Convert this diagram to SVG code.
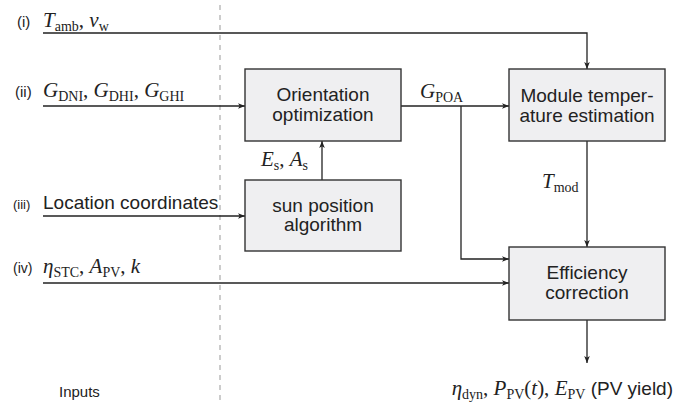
<svg xmlns="http://www.w3.org/2000/svg" width="675" height="403" viewBox="0 0 675 403">
<defs>
<marker id="ah" viewBox="0 0 10 10" refX="10" refY="5" markerWidth="7" markerHeight="7" markerUnits="userSpaceOnUse" orient="auto">
<path d="M0,1 L10,5 L0,9 L2.5,5 Z" fill="#222"/>
</marker>
<style>
.box{fill:#efeff1;stroke:#333;stroke-width:1.4}
.bt{font-family:"Liberation Sans",Arial,sans-serif;font-size:19px;fill:#222;text-anchor:middle}
.sans{font-family:"Liberation Sans",Arial,sans-serif;fill:#222}
.lab{font-size:15px}
.m{font-family:"Liberation Serif","Times New Roman",serif;font-size:21px;fill:#222}
.i{font-style:italic}
.s{font-size:14px;font-style:normal}
.c{fill:none;stroke:#222;stroke-width:1.3;marker-end:url(#ah)}
</style>
</defs>
<rect width="675" height="403" fill="#fff"/>
<line x1="220" y1="5" x2="220" y2="403" stroke="#999" stroke-width="1" stroke-dasharray="5,5"/>

<g id="connectors">
<path class="c" d="M43,33 H587 V69"/>
<path class="c" d="M43,106 H245"/>
<path class="c" d="M43,216 H245"/>
<path class="c" d="M43,283 H509"/>
<path class="c" d="M401,106 H509"/>
<path class="c" d="M461,106 V259 H509"/>
<path class="c" d="M322,180 V141"/>
<path class="c" d="M587,141 V247"/>
<path class="c" d="M587,320 V363"/>
</g>

<g id="input-i">
<text class="sans lab" x="17" y="27">(i)</text>
<text class="m" x="43" y="27"><tspan class="i">T</tspan><tspan class="s" dy="4">amb</tspan><tspan dy="-4">, </tspan><tspan class="i">v</tspan><tspan class="s" dy="4">w</tspan></text>
</g>
<g id="input-ii">
<text class="sans lab" x="15" y="97">(ii)</text>
<text class="m" x="43" y="97"><tspan class="i">G</tspan><tspan class="s" dy="4">DNI</tspan><tspan dy="-4">, </tspan><tspan class="i">G</tspan><tspan class="s" dy="4">DHI</tspan><tspan dy="-4">, </tspan><tspan class="i">G</tspan><tspan class="s" dy="4">GHI</tspan></text>
</g>
<g id="input-iii">
<text class="sans" x="13" y="209" font-size="13">(iii)</text>
<text class="sans" x="43" y="209" font-size="19">Location coordinates</text>
</g>
<g id="input-iv">
<text class="sans" x="13" y="273" font-size="14">(iv)</text>
<text class="m" x="43" y="273"><tspan class="i">η</tspan><tspan class="s" dy="4">STC</tspan><tspan dy="-4">, </tspan><tspan class="i">A</tspan><tspan class="s" dy="4">PV</tspan><tspan dy="-4">, </tspan><tspan class="i">k</tspan></text>
</g>

<g id="orientation">
<rect class="box" x="245" y="69" width="156" height="72"/>
<text class="bt" x="323" y="101">Orientation</text>
<text class="bt" x="323" y="121">optimization</text>
</g>
<g id="sun">
<rect class="box" x="245" y="180" width="156" height="71"/>
<text class="bt" x="323" y="212">sun position</text>
<text class="bt" x="323" y="231">algorithm</text>
</g>
<g id="module">
<rect class="box" x="509" y="69" width="156" height="72"/>
<text class="bt" x="587" y="102">Module temper-</text>
<text class="bt" x="587" y="122">ature estimation</text>
</g>
<g id="efficiency">
<rect class="box" x="509" y="247" width="156" height="73"/>
<text class="bt" x="587" y="279">Efficiency</text>
<text class="bt" x="587" y="299">correction</text>
</g>

<g id="labels">
<text class="m" x="261" y="166"><tspan class="i">E</tspan><tspan class="s" dy="4">s</tspan><tspan dy="-4">, </tspan><tspan class="i">A</tspan><tspan class="s" dy="4">s</tspan></text>
<text class="m" x="420" y="98"><tspan class="i">G</tspan><tspan class="s" dy="4">POA</tspan></text>
<text class="m" x="542" y="188"><tspan class="i">T</tspan><tspan class="s" dy="4">mod</tspan></text>
<text x="673" y="395" text-anchor="end"><tspan class="m i">η</tspan><tspan class="m s" dy="4">dyn</tspan><tspan class="m" dy="-4">, </tspan><tspan class="m i">P</tspan><tspan class="m s" dy="4">PV</tspan><tspan class="m" dy="-4">(</tspan><tspan class="m i">t</tspan><tspan class="m">), </tspan><tspan class="m i">E</tspan><tspan class="m s" dy="4">PV</tspan><tspan class="sans" font-size="19" dy="-4"> (PV yield)</tspan></text>
<text class="sans" x="59" y="397" font-size="15">Inputs</text>
</g>
</svg>
